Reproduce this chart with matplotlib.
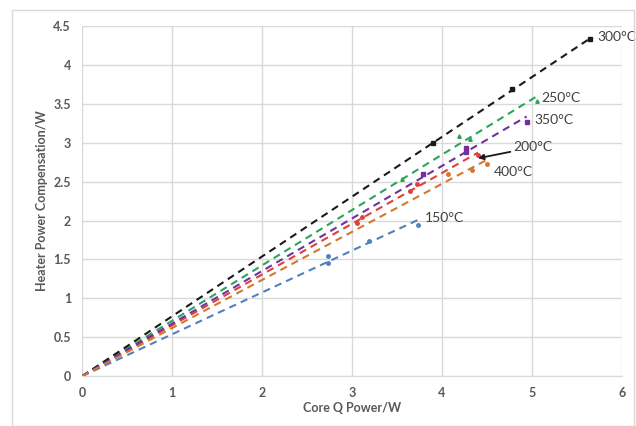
import numpy as np
import matplotlib
matplotlib.use("Agg")
import matplotlib.pyplot as plt
from matplotlib.patches import Rectangle

plt.rcParams['font.family'] = ['Lato', 'DejaVu Sans']

temps = ['150°C', '200°C', '250°C', '300°C', '350°C', '400°C']
x_150 = [2.73, 2.73, 3.19, 3.73]
y_150 = [1.45, 1.55, 1.74, 1.94]
x_200 = [3.06, 3.11, 3.64, 3.72, 4.40]
y_200 = [1.97, 2.05, 2.38, 2.47, 2.84]
x_250 = [3.56, 4.19, 4.31, 5.06]
y_250 = [2.54, 3.08, 3.05, 3.53]
x_300 = [3.90, 4.78, 5.64]
y_300 = [2.99, 3.69, 4.33]
x_350 = [3.79, 4.27, 4.27, 4.94]
y_350 = [2.60, 2.88, 2.93, 3.27]
x_400 = [4.07, 4.33, 4.50]
y_400 = [2.60, 2.65, 2.73]

series = [
    (x_150, y_150, '#4f81bd', 'o'),
    (x_200, y_200, '#e0403a', 'o'),
    (x_250, y_250, '#2aa55a', '^'),
    (x_300, y_300, '#1a1a1a', 's'),
    (x_350, y_350, '#7030a0', 's'),
    (x_400, y_400, '#d2782e', 'o'),
]

fig = plt.figure(figsize=(6.36, 4.26), dpi=100)
ax = fig.add_axes([0.129, 0.117, 0.849, 0.822])

# light frame round the whole chart
fig.patches.append(Rectangle((0.019, 0.0), 0.978, 0.976, transform=fig.transFigure,
                             fill=False, edgecolor='#d9d9d9', linewidth=1))

for xs, ys, col, mk in series:
    xs = np.array(xs)
    ys = np.array(ys)
    # linear trendline forced through zero
    k = np.sum(xs * ys) / np.sum(xs * xs)
    xx = np.array([0, xs.max()])
    ax.plot(xx, k * xx, linestyle=(0, (3.5, 2.5)), color=col, linewidth=1.5)
    ax.plot(xs, ys, linestyle='none', marker=mk, markersize=2.5, color=col)

# labels next to each line
txt = dict(fontsize=10, color='#404040')
ax.text(5.73, 4.36, '300°C', va='center', **txt)
ax.text(5.10, 3.58, '250°C', va='center', **txt)
ax.text(5.03, 3.29, '350°C', va='center', **txt)
ax.text(4.57, 2.63, '400°C', va='center', **txt)
ax.text(3.81, 2.03, '150°C', va='center', **txt)
ax.annotate('200°C', xy=(4.40, 2.80), xytext=(4.79, 2.94), va='center', **txt,
            arrowprops=dict(arrowstyle='-|>', color='#1a1a1a', lw=1.3,
                            mutation_scale=8, shrinkA=0, shrinkB=0))

ax.set_xlim(0, 6)
ax.set_ylim(0, 4.5)
ax.set_xticks(np.arange(0, 7, 1))
ax.set_yticks(np.arange(0, 5, 0.5))
ax.set_yticklabels(['0', '0.5', '1', '1.5', '2', '2.5', '3', '3.5', '4', '4.5'])
ax.grid(True, color='#d9d9d9', linewidth=1)
ax.set_axisbelow(True)
for s in ['top', 'right', 'left']:
    ax.spines[s].set_visible(False)
ax.spines['bottom'].set_color('#d9d9d9')
ax.tick_params(length=0, labelsize=9, labelcolor='#595959', pad=8)
for lab in ax.get_xticklabels() + ax.get_yticklabels():
    lab.set_fontweight('bold')

ax.set_xlabel('Core Q Power/W', fontsize=9, color='#595959', fontweight='bold', labelpad=2)
ax.set_ylabel('Heater Power Compensation/W', fontsize=9, color='#595959',
              fontweight='bold', labelpad=4)

fig.savefig('out.png', dpi=100)
